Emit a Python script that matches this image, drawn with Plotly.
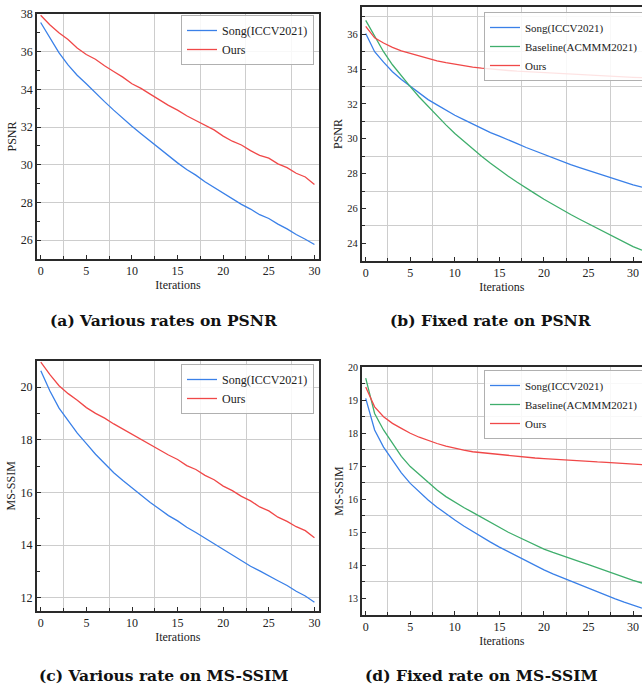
import plotly.graph_objects as go

# ---------------- data ----------------
iters_var = list(range(0, 31))
iters_fix = list(range(0, 32))

# (a) Various rates on PSNR
psnr_var_song = [37.55, 36.75, 35.95, 35.3, 34.75, 34.3, 33.8, 33.35, 32.9, 32.45, 32.05,
                 31.65, 31.25, 30.85, 30.45, 30.1, 29.75, 29.45, 29.1, 28.8, 28.5,
                 28.2, 27.9, 27.65, 27.35, 27.15, 26.85, 26.6, 26.3, 26.05, 25.77]
psnr_var_ours = [37.93, 37.43, 37.0, 36.65, 36.2, 35.85, 35.6, 35.25, 34.95, 34.65, 34.3,
                 34.05, 33.75, 33.45, 33.15, 32.9, 32.6, 32.35, 32.1, 31.85, 31.52,
                 31.25, 31.05, 30.75, 30.5, 30.35, 30.05, 29.85, 29.55, 29.35, 28.95]

# (b) Fixed rate on PSNR
psnr_fix_song = [36.05, 35.0, 34.4, 33.85, 33.4, 33.0, 32.6, 32.25, 31.95, 31.65, 31.35,
                 31.1, 30.85, 30.6, 30.35, 30.15, 29.95, 29.72, 29.5, 29.3, 29.1,
                 28.9, 28.7, 28.52, 28.35, 28.18, 28.0, 27.83, 27.67, 27.5, 27.35, 27.22]
psnr_fix_base = [36.8, 35.9, 35.0, 34.25, 33.6, 33.0, 32.4, 31.85, 31.3, 30.8, 30.3,
                 29.85, 29.4, 29.0, 28.6, 28.2, 27.85, 27.5, 27.15, 26.85, 26.53,
                 26.22, 25.93, 25.65, 25.38, 25.12, 24.86, 24.6, 24.33, 24.07, 23.81, 23.6]
psnr_fix_ours = [36.45, 35.8, 35.5, 35.25, 35.05, 34.9, 34.75, 34.6, 34.48, 34.37, 34.28,
                 34.2, 34.12, 34.06, 34.0, 33.96, 33.92, 33.88, 33.85, 33.82, 33.79,
                 33.76, 33.73, 33.71, 33.69, 33.66, 33.64, 33.61, 33.59, 33.56, 33.53, 33.51]

# (c) Various rate on MS-SSIM
ms_var_song = [20.62, 19.85, 19.2, 18.7, 18.25, 17.85, 17.45, 17.1, 16.75, 16.45, 16.17,
               15.9, 15.62, 15.37, 15.12, 14.92, 14.68, 14.48, 14.27, 14.05, 13.83,
               13.63, 13.4, 13.2, 13.02, 12.85, 12.65, 12.47, 12.25, 12.07, 11.83]
ms_var_ours = [20.95, 20.47, 20.05, 19.75, 19.5, 19.22, 19.0, 18.82, 18.6, 18.4, 18.2,
               18.02, 17.82, 17.63, 17.42, 17.25, 17.02, 16.87, 16.65, 16.48, 16.24,
               16.07, 15.85, 15.68, 15.45, 15.3, 15.06, 14.9, 14.7, 14.55, 14.28]

# (d) Fixed rate on MS-SSIM
ms_fix_song = [19.06, 18.1, 17.58, 17.18, 16.8, 16.48, 16.22, 15.98, 15.76, 15.56, 15.37,
               15.19, 15.02, 14.86, 14.7, 14.55, 14.41, 14.27, 14.13, 13.99, 13.86,
               13.74, 13.63, 13.51, 13.4, 13.29, 13.18, 13.08, 12.98, 12.88, 12.78, 12.7]
ms_fix_base = [19.67, 18.6, 18.1, 17.68, 17.3, 16.99, 16.75, 16.5, 16.28, 16.08, 15.91,
               15.75, 15.6, 15.45, 15.3, 15.13, 15.0, 14.87, 14.74, 14.61, 14.49,
               14.39, 14.29, 14.2, 14.11, 14.02, 13.92, 13.82, 13.72, 13.63, 13.54, 13.46]
ms_fix_ours = [19.4, 18.8, 18.5, 18.3, 18.15, 18.0, 17.88, 17.78, 17.69, 17.61, 17.54,
               17.49, 17.44, 17.41, 17.38, 17.35, 17.32, 17.3, 17.27, 17.25, 17.23,
               17.21, 17.19, 17.18, 17.16, 17.15, 17.13, 17.12, 17.1, 17.08, 17.06, 17.05]

# tick labels / grid positions
x_ticks = [0, 5, 10, 15, 20, 25, 30]
x_grid = [2.5, 7.5, 12.5, 17.5, 22.5, 27.5]
psnr_ticks = [24, 26, 28, 30, 32, 34, 36, 38]
psnr_minor_a = [25, 27, 29, 31, 33, 35, 37]
psnr_grid_b = [23, 25, 27, 29, 31, 33, 35, 37]
ms_ticks_c = [12, 14, 16, 18, 20]
ms_minor_c = [13, 15, 17, 19, 21]
ms_ticks_d = [13, 14, 15, 16, 17, 18, 19, 20]
ms_grid_d = [12.5, 13.5, 14.5, 15.5, 16.5, 17.5, 18.5, 19.5]

names = ["Song(ICCV2021)", "Baseline(ACMMM2021)", "Ours"]
captions = ["(a) Various rates on PSNR", "(b) Fixed rate on PSNR",
            "(c) Various rate on MS-SSIM", "(d) Fixed rate on MS-SSIM"]

BLUE = "#3a80e8"
GREEN = "#3fae6c"
RED = "#f04848"
SERIF = "Liberation Serif"

fig = go.Figure()

def add(x, y, name, color, xa, ya, leg):
    fig.add_trace(go.Scatter(x=x, y=y, name=name, mode="lines",
                             line=dict(color=color, width=1.3),
                             xaxis=xa, yaxis=ya, legend=leg))

add(iters_var, psnr_var_song, names[0], BLUE, "x", "y", "legend")
add(iters_var, psnr_var_ours, names[2], RED, "x", "y", "legend")
add(iters_fix, psnr_fix_song, names[0], BLUE, "x2", "y2", "legend2")
add(iters_fix, psnr_fix_base, names[1], GREEN, "x2", "y2", "legend2")
add(iters_fix, psnr_fix_ours, names[2], RED, "x2", "y2", "legend2")
add(iters_var, ms_var_song, names[0], BLUE, "x3", "y3", "legend3")
add(iters_var, ms_var_ours, names[2], RED, "x3", "y3", "legend3")
add(iters_fix, ms_fix_song, names[0], BLUE, "x4", "y4", "legend4")
add(iters_fix, ms_fix_base, names[1], GREEN, "x4", "y4", "legend4")
add(iters_fix, ms_fix_ours, names[2], RED, "x4", "y4", "legend4")

W, H = 642, 687
GRIDC = "#cdcdcd"
LINEC = "#2a2a2a"

def xcfg(x0, x1, rng, anchor):
    return dict(domain=[x0 / W, x1 / W], range=rng, anchor=anchor,
                tickmode="array", tickvals=x_ticks, ticks="inside", ticklen=4,
                tickcolor=LINEC, showgrid=False, zeroline=False, showline=True,
                linecolor=LINEC, linewidth=1.6, mirror=True,
                tickfont=dict(family=SERIF, size=12, color="#222"),
                minor=dict(tickmode="array", tickvals=x_grid, ticks="inside", ticklen=3,
                           tickcolor=LINEC, showgrid=True, gridcolor=GRIDC, gridwidth=1.4),
                title=dict(text="Iterations", font=dict(family=SERIF, size=12, color="#222"),
                           standoff=0))

def ycfg(ytop, ybot, rng, anchor, title, ticks, tsize, grid_major, minor_vals, minor_grid):
    minor = dict(tickmode="array", tickvals=minor_vals, ticks="inside", ticklen=3,
                 tickcolor=LINEC, showgrid=minor_grid, gridcolor=GRIDC, gridwidth=1.4)
    return dict(domain=[1 - ybot / H, 1 - ytop / H], range=rng, anchor=anchor,
                tickmode="array", tickvals=ticks, ticks="inside", ticklen=4,
                tickcolor=LINEC, showgrid=grid_major, gridcolor=GRIDC, gridwidth=1.4,
                zeroline=False, showline=True, linecolor=LINEC, linewidth=1.6, mirror=True,
                tickfont=dict(family=SERIF, size=tsize, color="#222"),
                minor=minor,
                title=dict(text=title, font=dict(family=SERIF, size=12, color="#222"),
                           standoff=2))

def legcfg(x, y, xanchor, fsize):
    return dict(x=x, y=y, xanchor=xanchor, yanchor="top", xref="paper", yref="paper",
                bgcolor="rgba(255,255,255,0.85)", bordercolor="#b0b0b0", borderwidth=1,
                font=dict(family=SERIF, size=fsize, color="#222"), itemwidth=30,
                tracegroupgap=0)

fig.update_layout(
    width=W, height=H,
    margin=dict(l=0, r=0, t=0, b=0, autoexpand=False),
    paper_bgcolor="white", plot_bgcolor="white",
    font=dict(family=SERIF, color="#222"),
    xaxis=xcfg(37, 319, [-0.4, 30.5], "y"),
    yaxis=ycfg(14, 259, [25, 38], "x", "PSNR", psnr_ticks, 12, True, psnr_minor_a, False),
    xaxis2=xcfg(361.7, 642, [-0.45, 31], "y2"),
    yaxis2=ycfg(7.3, 260.7, [23, 37.55], "x2", "PSNR", psnr_ticks, 10.5, False, psnr_grid_b, True),
    xaxis3=xcfg(36.7, 319, [-0.45, 30.5], "y3"),
    yaxis3=ycfg(360.7, 611, [11.5, 21], "x3", "MS-SSIM", ms_ticks_c, 12, True, ms_minor_c, False),
    xaxis4=xcfg(361.7, 642, [-0.45, 31], "y4"),
    yaxis4=ycfg(367.3, 614.7, [12.5, 20], "x4", "MS-SSIM", ms_ticks_d, 10, False, ms_grid_d, True),
    legend=legcfg(314 / W, 1 - 15 / H, "right", 12),
    legend2=legcfg(484 / W, 1 - 12 / H, "left", 11),
    legend3=legcfg(314 / W, 1 - 364 / H, "right", 12),
    legend4=legcfg(484 / W, 1 - 370 / H, "left", 11),
)

cap_pos = [(164, 320), (490, 320), (164, 675), (481, 675)]
for text, (cx, cy) in zip(captions, cap_pos):
    fig.add_annotation(text="<b>" + text + "</b>", x=cx / W, y=1 - cy / H,
                       xref="paper", yref="paper",
                       xanchor="center", yanchor="middle", showarrow=False,
                       font=dict(family="DejaVu Serif", size=15.5, color="#111"))

fig.write_html("out.html",
               config={"displayModeBar": False},
               post_script="document.body.style.margin='0';document.body.style.padding='0';"
                           "document.documentElement.style.overflow='hidden';")
